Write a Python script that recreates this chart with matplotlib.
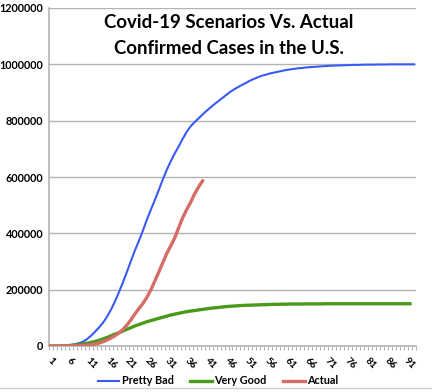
import matplotlib
matplotlib.use("Agg")
import matplotlib.pyplot as plt
from matplotlib.lines import Line2D
import numpy as np

plt.rcParams['font.family'] = ['Lato', 'DejaVu Sans']

days = list(range(1, 93))
tick_labels = [str(d) for d in range(1, 92, 5)]

pretty_bad = [0, 0, 500, 1000, 2000, 4000, 6500, 10000, 15000, 24000,
              36000, 50000, 65000, 82000, 103000, 128000, 157000, 190000, 225000, 262000,
              300000, 338000, 372000, 408000, 447000, 483000, 517000, 553000, 590000, 625000,
              655000, 683000, 708000, 735000, 760000, 780000, 795000, 808000, 822000, 835000,
              847000, 859000, 870000, 881000, 892000, 903000, 912000, 920000, 928000, 935000,
              943000, 949000, 955000, 960000, 964000, 968000, 971000, 974000, 977000, 980000,
              982000, 984000, 986000, 987000, 989000, 990000, 991000, 992000, 993000, 994000,
              995000, 995500, 996000, 996500, 997000, 997500, 998000, 998000, 998500, 999000,
              999000, 999000, 999500, 999500, 999500, 1000000, 1000000, 1000000, 1000000, 1000000,
              1000000, 1000000]

very_good = [0, 0, 0, 500, 1000, 2000, 3000, 5000, 7000, 9500,
             12500, 16000, 20000, 25000, 30000, 36000, 42000, 47000, 53000, 59000,
             65000, 71000, 76000, 81000, 86000, 90000, 94000, 98000, 102000, 106000,
             110000, 113000, 116000, 119000, 122000, 124000, 126000, 128000, 130000, 132000,
             134000, 135500, 137000, 138500, 140000, 141000, 142000, 143000, 144000, 144500,
             145000, 145500, 146000, 146500, 147000, 147500, 148000, 148000, 148500, 148500,
             149000, 149000, 149000, 149000, 149500, 149500, 149500, 149500, 149500, 150000,
             150000, 150000, 150000, 150000, 150000, 150000, 150000, 150000, 150000, 150000,
             150000, 150000, 150000, 150000, 150000, 150000, 150000, 150000, 150000, 150000,
             150000]

actual = [0, 0, 0, 100, 200, 400, 600, 1000, 1500, 2500,
          4500, 7000, 10000, 15000, 21000, 28000, 36000, 46000, 58000, 74000,
          92000, 113000, 132000, 150000, 172000, 198000, 230000, 262000, 295000, 328000,
          355000, 383000, 420000, 455000, 484000, 510000, 540000, 565000, 586000]

series_names = ["Pretty Bad", "Very Good", "Actual"]
colors = ["#3a5af5", "#4a9a1a", "#d56d66"]

fig = plt.figure(figsize=(4.32, 3.92), dpi=100)
ax = fig.add_axes([49/432, 1-346/392, (416-49)/432, (346-8)/392])

ax.plot(days[:len(pretty_bad)], pretty_bad, color=colors[0], lw=1.5, label=series_names[0], zorder=3)
ax.plot(days[:len(very_good)], very_good, color=colors[1], lw=2.4, label=series_names[1], zorder=3)
ax.plot(days[:len(actual)], actual, color=colors[2], lw=2.4, label=series_names[2], zorder=4)

ax.set_xlim(0.5, 92.5)
ax.set_ylim(0, 1200000)
ax.set_yticks(np.arange(0, 1200001, 200000))
ax.set_yticklabels([str(v) for v in range(0, 1200001, 200000)], fontsize=7.8, fontweight='bold')
ax.yaxis.grid(True, color='#b3b3b3', lw=1)
ax.set_axisbelow(True)
ax.tick_params(axis='y', length=0, pad=4)

ax.set_xticks(range(1, 92, 5))
ax.set_xticklabels(tick_labels, rotation=-45, fontsize=7.3, fontweight='bold',
                   ha='center', va='top', rotation_mode='default')
ax.set_xticks(np.arange(0.5, 93, 1), minor=True)
ax.tick_params(axis='x', which='major', length=0, pad=7)
ax.tick_params(axis='x', which='minor', length=3, color='#b3b3b3', width=0.8)

for s in ['top', 'right']:
    ax.spines[s].set_visible(False)
ax.spines['left'].set_color('#b3b3b3')
ax.spines['left'].set_linewidth(1.2)
ax.spines['bottom'].set_color('#b3b3b3')
ax.spines['bottom'].set_linewidth(1.2)

fig.text(229/432, 1-22/392, "Covid-19 Scenarios Vs. Actual", ha='center', va='center',
         fontsize=13.4, fontweight='bold')
fig.text(229/432, 1-48/392, "Confirmed Cases in the U.S.", ha='center', va='center',
         fontsize=13.4, fontweight='bold')

leg = fig.legend(loc='center', bbox_to_anchor=(218/432, 1-381/392), ncol=3, frameon=False,
                 prop={'size': 7.8, 'weight': 'bold'}, handlelength=2.0, handletextpad=0.25,
                 columnspacing=1.5)

fig.add_artist(Line2D([0, 1], [1-388/392, 1-388/392], color='#d0d0d0', lw=1))

fig.savefig("out.png", dpi=100)
